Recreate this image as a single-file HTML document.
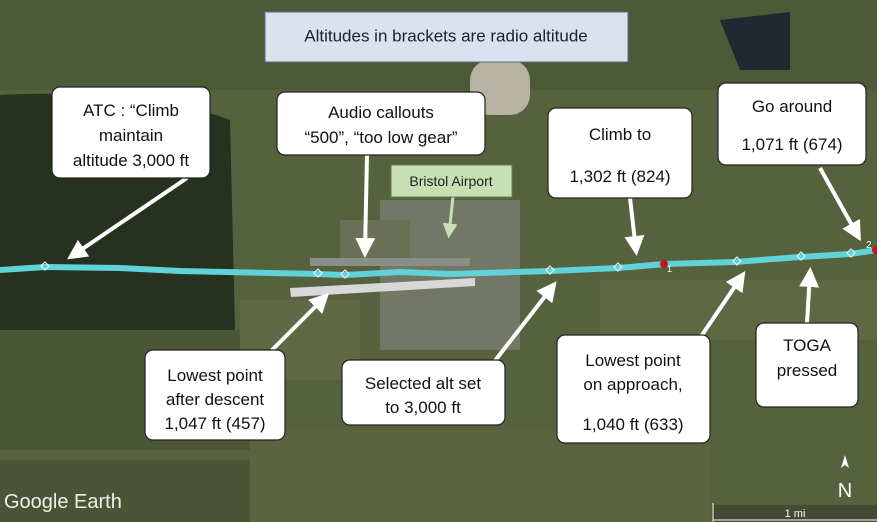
<!DOCTYPE html>
<html><head><meta charset="utf-8"><style>
html,body{margin:0;padding:0;width:877px;height:522px;overflow:hidden;background:#55603c}
svg{display:block}
text{font-family:"Liberation Sans",sans-serif}
</style></head><body>
<svg width="877" height="522" viewBox="0 0 877 522">
<defs>
<marker id="ah" markerWidth="5" markerHeight="5" refX="3.5" refY="2.5" orient="auto" markerUnits="strokeWidth"><path d="M0,0 L5,2.5 L0,5 z" fill="#fff"/></marker>
<marker id="ag" markerWidth="5" markerHeight="5" refX="3.5" refY="2.5" orient="auto" markerUnits="strokeWidth"><path d="M0,0 L5,2.5 L0,5 z" fill="#c6e0b4"/></marker>
</defs>
<rect width="877" height="522" fill="#56613e"/>
<rect x="0" y="0" width="877" height="90" fill="#4d5a38"/>
<path d="M0,95 C80,90 180,100 230,120 L235,330 L0,330 z" fill="#26321f"/>
<rect x="0" y="330" width="250" height="120" fill="#4a5634"/>
<rect x="240" y="300" width="120" height="80" fill="#5f6a45"/>
<rect x="380" y="200" width="140" height="150" fill="#727766"/>
<rect x="340" y="220" width="70" height="40" fill="#6a7055"/>
<rect x="470" y="60" width="60" height="55" fill="#b7b3a2" rx="20"/>
<path d="M720,20 L790,12 L790,70 L740,70 z" fill="#1e2a30"/>
<rect x="600" y="280" width="277" height="60" fill="#5e6842"/>
<rect x="250" y="430" width="460" height="92" fill="#5a6440"/>
<rect x="0" y="460" width="250" height="62" fill="#4b5536"/>
<rect x="310" y="258" width="160" height="8" fill="#8a8e86"/>
<polygon points="290,288 475,278 475,286 291,297" fill="#d8d8d8"/>
<path d="M0,270 L45,267 L120,268 L180,271 L318,274 L345,275 L400,272 L450,274 L550,271 L618,268 L665,264 L735,262 L800,257 L850,254 L877,250" fill="none" stroke="#5fd3d8" stroke-width="6"/>
<g fill="none" stroke="#e0f4f4" stroke-width="1.2">
<path d="M45,262 l4,4 -4,4 -4,-4z"/><path d="M318,269 l4,4 -4,4 -4,-4z"/><path d="M345,270 l4,4 -4,4 -4,-4z"/><path d="M550,266 l4,4 -4,4 -4,-4z"/><path d="M618,263 l4,4 -4,4 -4,-4z"/><path d="M737,257 l4,4 -4,4 -4,-4z"/><path d="M801,252 l4,4 -4,4 -4,-4z"/><path d="M851,249 l4,4 -4,4 -4,-4z"/>
</g>
<circle cx="664" cy="264" r="4" fill="#c01818"/><text x="667" y="272" font-size="9" fill="#fff">1</text>
<circle cx="876" cy="250" r="4" fill="#c01818"/><text x="866" y="248" font-size="10" fill="#fff">2</text>
<g stroke="#fff" stroke-width="4" fill="none" marker-end="url(#ah)">
<line x1="187" y1="178" x2="72" y2="256"/>
<line x1="367" y1="155" x2="365" y2="252"/>
<line x1="630" y1="198" x2="636" y2="250"/>
<line x1="820" y1="168" x2="858" y2="236"/>
<line x1="272" y1="350" x2="325" y2="297"/>
<line x1="494" y1="362" x2="553" y2="286"/>
<line x1="700" y1="338" x2="742" y2="276"/>
<line x1="807" y1="323" x2="810" y2="273"/>
</g>
<line x1="453" y1="197" x2="449" y2="234" stroke="#c6e0b4" stroke-width="3" marker-end="url(#ag)"/>
<rect x="265" y="12" width="363" height="50" fill="#dae1ef" stroke="#5c6880" stroke-width="1"/>
<text x="446" y="37" font-size="17" text-anchor="middle" dominant-baseline="middle" fill="#222">Altitudes in brackets are radio altitude</text>
<rect x="391" y="165" width="121" height="32" fill="#c6e0b4" stroke="#6a7a5a"/>
<text x="451" y="186" font-size="14" text-anchor="middle" fill="#222">Bristol Airport</text>
<g fill="#fff" stroke="#222" stroke-width="1.2">
<rect x="52" y="87" width="158" height="91" rx="8"/>
<rect x="277" y="92" width="208" height="63" rx="8"/>
<rect x="548" y="108" width="144" height="90" rx="8"/>
<rect x="718" y="83" width="148" height="82" rx="8"/>
<rect x="145" y="350" width="140" height="90" rx="8"/>
<rect x="342" y="360" width="163" height="65" rx="8"/>
<rect x="557" y="335" width="153" height="108" rx="8"/>
<rect x="756" y="323" width="102" height="84" rx="8"/>
</g>
<g font-size="17" text-anchor="middle" fill="#111">
<text x="131" y="116">ATC : “Climb</text><text x="131" y="141">maintain</text><text x="131" y="166">altitude 3,000 ft</text>
<text x="381" y="118">Audio callouts</text><text x="381" y="143">“500”, “too low gear”</text>
<text x="620" y="140">Climb to</text><text x="620" y="182">1,302 ft (824)</text>
<text x="792" y="112">Go around</text><text x="792" y="150">1,071 ft (674)</text>
<text x="215" y="381">Lowest point</text><text x="215" y="405">after descent</text><text x="215" y="429">1,047 ft (457)</text>
<text x="423" y="389">Selected alt set</text><text x="423" y="413">to 3,000 ft</text>
<text x="633" y="366">Lowest point</text><text x="633" y="390">on approach,</text><text x="633" y="430">1,040 ft (633)</text>
<text x="807" y="351">TOGA</text><text x="807" y="376">pressed</text>
</g>
<text x="4" y="508" font-size="20" fill="#fff" opacity="0.9">Google Earth</text>
<rect x="712" y="505" width="165" height="17" fill="#3a3a30" opacity="0.6"/>
<line x1="713" y1="503" x2="713" y2="522" stroke="#fff"/>
<line x1="713" y1="520" x2="877" y2="520" stroke="#fff"/>
<text x="795" y="517" font-size="11" fill="#fff" text-anchor="middle">1 mi</text>
<path d="M845,455 l-4,13 4,-3 4,3z" fill="#fff"/>
<text x="845" y="497" font-size="20" fill="#fff" text-anchor="middle" font-family="Liberation Serif">N</text>
</svg>
</body></html>
